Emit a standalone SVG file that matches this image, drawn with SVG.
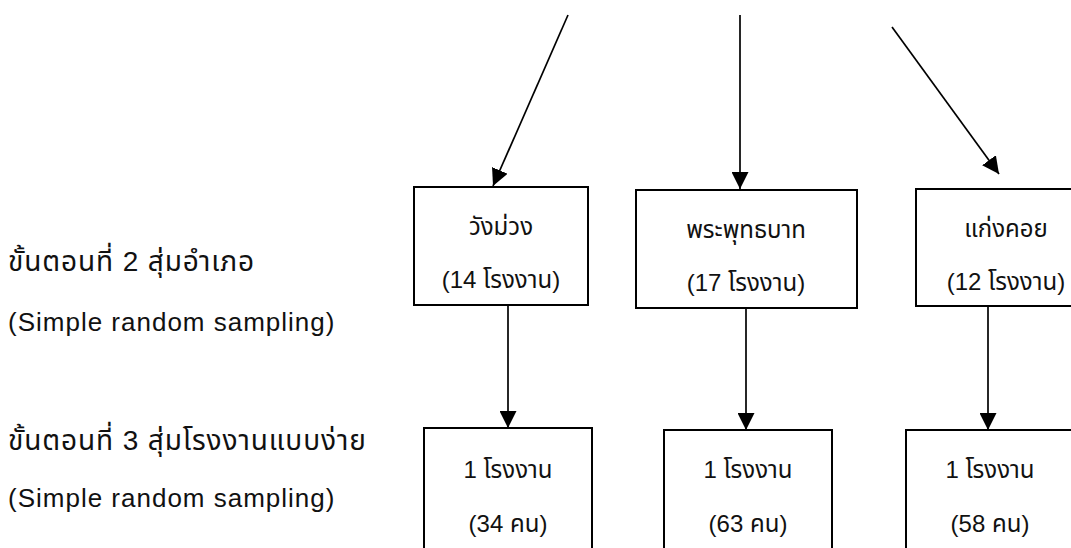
<svg xmlns="http://www.w3.org/2000/svg" width="1071" height="548" viewBox="0 0 1071 548">
<style>
.box{fill:#fff;stroke:#000;stroke-width:2}
.t{font-family:"Liberation Sans","Noto Sans Thai","Noto Sans","DejaVu Sans",sans-serif;font-size:24px;fill:#111}
.c{text-anchor:middle}
.th{font-size:28px;letter-spacing:0.9px}
.lat{font-size:26px;letter-spacing:1px}
.ln{stroke:#000;stroke-width:1.7;fill:none;marker-end:url(#ah)}
</style>
<defs>
<marker id="ah" viewBox="0 0 10 10" refX="10" refY="5" markerWidth="17" markerHeight="17" markerUnits="userSpaceOnUse" orient="auto">
<path d="M0,0 L10,5 L0,10 z" fill="#000"/>
</marker>
</defs>
<rect width="1071" height="548" fill="#fff"/>
<g id="labels">
<text class="t th" x="8" y="271">ขั้นตอนที่ 2 สุ่มอำเภอ</text>
<text class="t lat" x="8" y="331">(Simple random sampling)</text>
<text class="t th" x="8" y="450">ขั้นตอนที่ 3 สุ่มโรงงานแบบง่าย</text>
<text class="t lat" x="8" y="507">(Simple random sampling)</text>
</g>
<g id="connectors">
<line class="ln" x1="568" y1="15" x2="493" y2="186"/>
<line class="ln" x1="740" y1="15" x2="740" y2="189"/>
<line class="ln" x1="892" y1="27" x2="999" y2="174"/>
<line class="ln" x1="508" y1="305" x2="508" y2="428"/>
<line class="ln" x1="746" y1="308" x2="746" y2="430"/>
<line class="ln" x1="988" y1="306" x2="988" y2="430"/>
</g>
<g id="n1">
<rect class="box" x="414" y="187" width="174" height="118"/>
<text class="t c" x="501" y="235">วังม่วง</text>
<text class="t c" x="501" y="288">(14 โรงงาน)</text>
</g>
<g id="n2">
<rect class="box" x="636" y="190" width="221" height="118"/>
<text class="t c" x="746" y="238">พระพุทธบาท</text>
<text class="t c" x="746" y="291">(17 โรงงาน)</text>
</g>
<g id="n3">
<rect class="box" x="916" y="189" width="180" height="117"/>
<text class="t c" x="1006" y="237">แก่งคอย</text>
<text class="t c" x="1006" y="290">(12 โรงงาน)</text>
</g>
<g id="n4">
<rect class="box" x="424" y="428" width="168" height="140"/>
<text class="t c" x="508" y="478">1 โรงงาน</text>
<text class="t c" x="508" y="532">(34 คน)</text>
</g>
<g id="n5">
<rect class="box" x="664" y="430" width="168" height="140"/>
<text class="t c" x="748" y="478">1 โรงงาน</text>
<text class="t c" x="748" y="532">(63 คน)</text>
</g>
<g id="n6">
<rect class="box" x="906" y="430" width="168" height="140"/>
<text class="t c" x="990" y="478">1 โรงงาน</text>
<text class="t c" x="990" y="532">(58 คน)</text>
</g>
</svg>
